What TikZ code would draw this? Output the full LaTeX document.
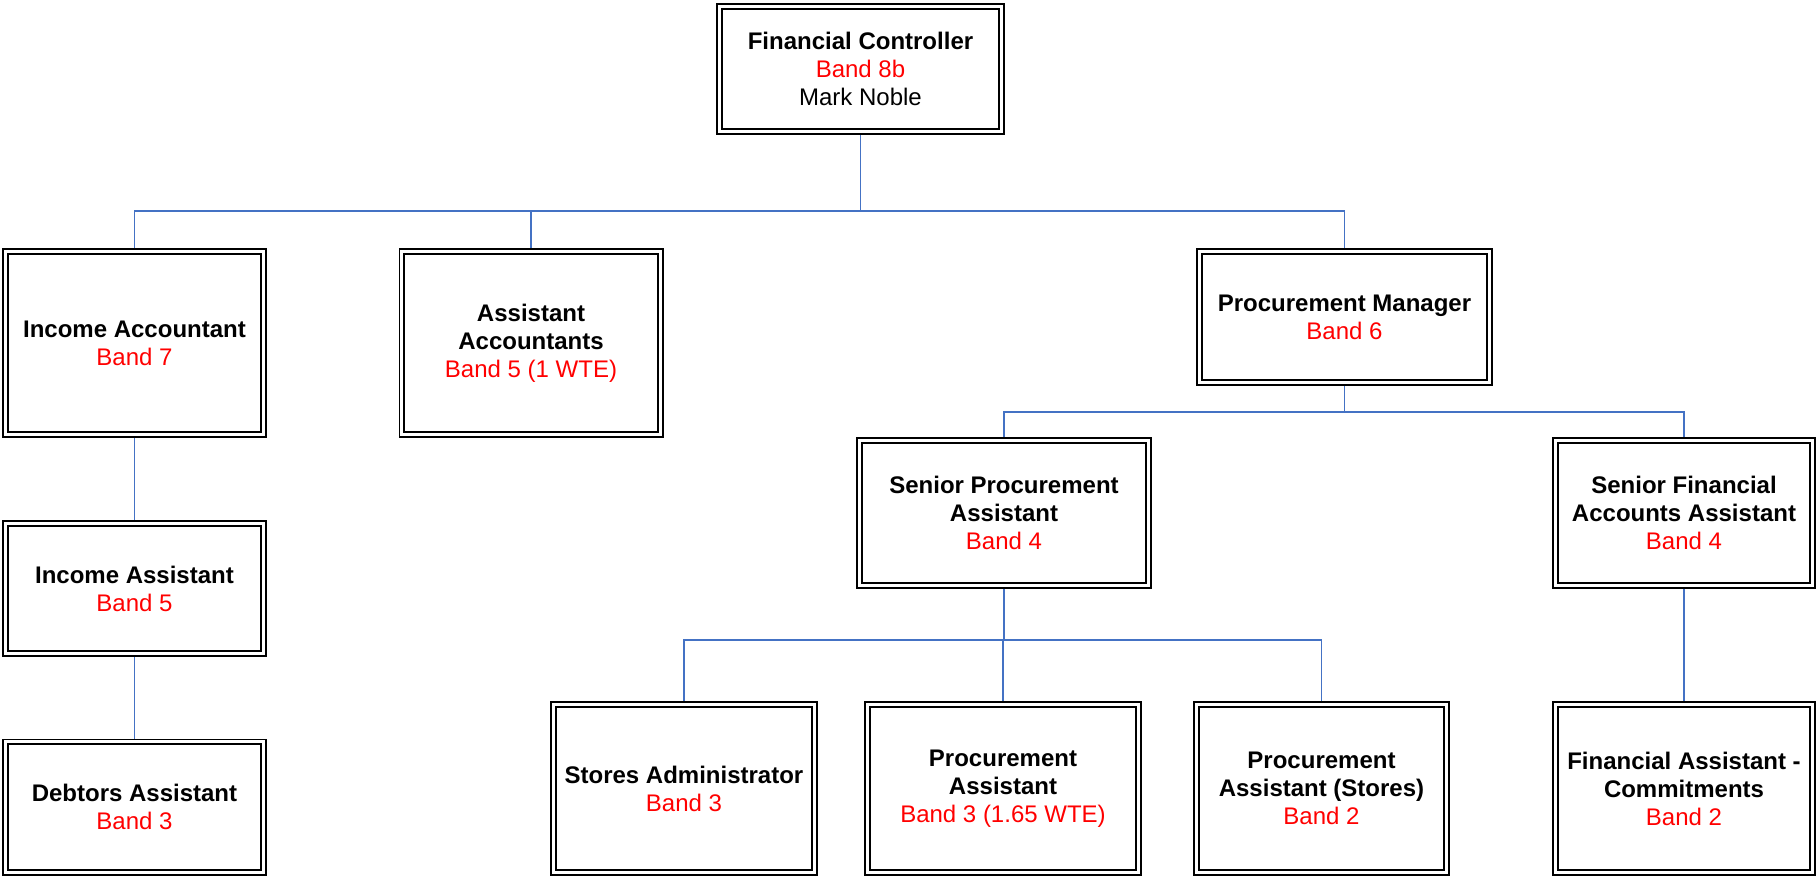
\documentclass[tikz,border=0pt]{standalone}
\usepackage{fontspec}
\setmainfont{Liberation Sans}
\usetikzlibrary{backgrounds}
\definecolor{linkblue}{RGB}{68,114,196}
\definecolor{bandred}{RGB}{255,0,0}
\tikzset{
  rolebox/.style={draw=black, double=white, line width=1.8pt, double distance=3pt,
    rectangle, inner sep=0pt, align=center, fill=white,
    font=\fontsize{24}{28}\selectfont},
  link/.style={draw=linkblue, line width=1.6pt}
}
\newcommand{\ttl}[1]{\textbf{#1}}
\newcommand{\bnd}[1]{\textcolor{bandred}{#1}}
\begin{document}
\begin{tikzpicture}[x=1pt,y=-1pt]
\useasboundingbox (0,0) rectangle (1816,876);

\node[rolebox, minimum width=282.4pt, minimum height=125.4pt] (fc) at (860.5,69) {\ttl{Financial Controller}\\\bnd{Band 8b}\\Mark Noble};
\node[rolebox, minimum width=258.4pt, minimum height=183.4pt] (ia) at (134.5,343) {\ttl{Income Accountant}\\\bnd{Band 7}};
\node[rolebox, minimum width=258.4pt, minimum height=183.4pt] (aa) at (531,343) {\ttl{Assistant}\\\ttl{Accountants}\\\bnd{Band 5 (1 WTE)}};
\node[rolebox, minimum width=290.4pt, minimum height=131.4pt] (pm) at (1344.5,317) {\ttl{Procurement Manager}\\\bnd{Band 6}};
\node[rolebox, minimum width=258.4pt, minimum height=130.4pt] (ias) at (134.5,588.5) {\ttl{Income Assistant}\\\bnd{Band 5}};
\node[rolebox, minimum width=258.4pt, minimum height=130.4pt] (da) at (134.5,807) {\ttl{Debtors Assistant}\\\bnd{Band 3}};
\node[rolebox, minimum width=289.4pt, minimum height=145.4pt] (spa) at (1004,513) {\ttl{Senior Procurement}\\\ttl{Assistant}\\\bnd{Band 4}};
\node[rolebox, minimum width=257.4pt, minimum height=145.4pt] (sfa) at (1684,513) {\ttl{Senior Financial}\\\ttl{Accounts Assistant}\\\bnd{Band 4}};
\node[rolebox, minimum width=261.4pt, minimum height=168.4pt] (sa) at (684,788.5) {\ttl{Stores Administrator}\\\bnd{Band 3}};
\node[rolebox, minimum width=271.4pt, minimum height=168.4pt] (pa) at (1003,788.5) {\ttl{Procurement}\\\ttl{Assistant}\\\bnd{Band 3 (1.65 WTE)}};
\node[rolebox, minimum width=250.4pt, minimum height=168.4pt] (pas) at (1321.5,788.5) {\ttl{Procurement}\\\ttl{Assistant (Stores)}\\\bnd{Band 2}};
\node[rolebox, minimum width=257.4pt, minimum height=168.4pt] (fac) at (1684,788.5) {\ttl{Financial Assistant -}\\\ttl{Commitments}\\\bnd{Band 2}};

\coordinate (bus1) at (860.5,211);
\coordinate (bus2) at (1344.5,412);
\coordinate (bus3) at (1004,640);

\begin{scope}[on background layer]
\fill[white] (0,0) rectangle (1816,876);
\draw[link] (fc.south) -- (bus1);
\draw[link] (bus1) -| (ia.north);
\draw[link] (bus1) -| (aa.north);
\draw[link] (bus1) -| (pm.north);
\draw[link] (ia.south) -- (ias.north);
\draw[link] (ias.south) -- (da.north);
\draw[link] (pm.south) -- (bus2);
\draw[link] (bus2) -| (spa.north);
\draw[link] (bus2) -| (sfa.north);
\draw[link] (spa.south) -- (bus3);
\draw[link] (bus3) -| (sa.north);
\draw[link] (bus3) -| (pa.north);
\draw[link] (bus3) -| (pas.north);
\draw[link] (sfa.south) -- (fac.north);
\end{scope}
\end{tikzpicture}
\end{document}
